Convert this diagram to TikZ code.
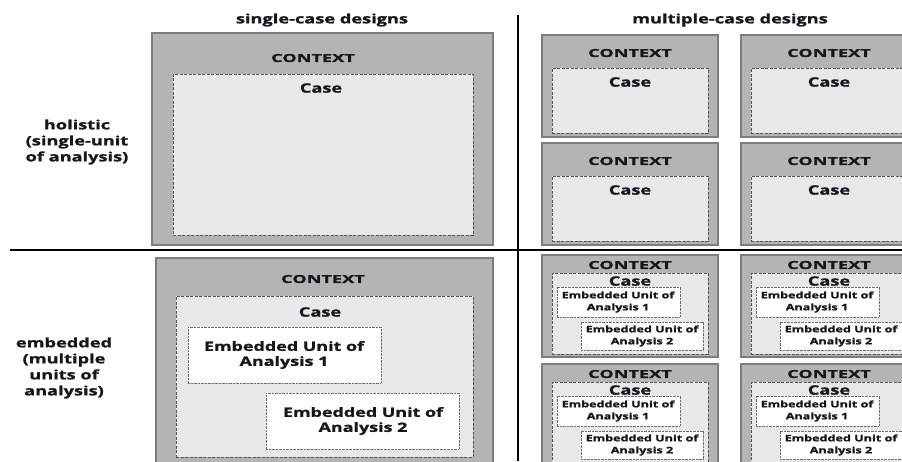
\documentclass[tikz,border=0pt]{standalone}
\usepackage{fontspec}
\newfontfamily\wfont[FakeStretch=1.4,BoldFeatures={FakeBold=1.2}]{Open Sans}
\newfontfamily\cfont[FakeStretch=1.65,BoldFeatures={FakeBold=1.2}]{Open Sans}
\definecolor{ctxfill}{RGB}{180,180,180}
\definecolor{ctxline}{RGB}{125,125,125}
\definecolor{casefill}{RGB}{232,232,232}
\definecolor{caseline}{RGB}{85,85,85}
\definecolor{unitline}{RGB}{110,110,110}
\definecolor{ink}{RGB}{22,22,30}
\newcommand\rbox[6]{\node[#2, anchor=north west, minimum width={(#5)-(#3)}, minimum height={(#6)-(#4)}] (#1) at (#3,#4) {};}
\begin{document}
\begin{tikzpicture}[x=1pt,y=-1pt,
  ctxbox/.style={draw=ctxline, fill=ctxfill, line width=1.3pt, inner sep=0pt, outer sep=0pt},
  casebox/.style={draw=caseline, fill=casefill, line width=1pt, dash pattern=on 3pt off 1.5pt, inner sep=0pt, outer sep=0pt},
  unitbox/.style={draw=unitline, fill=white, line width=0.8pt, dash pattern=on 0.8pt off 0.6pt, inner sep=0pt, outer sep=0pt},
  txt/.style={text=ink, inner sep=0pt, align=center},
  head/.style={txt, font=\wfont\bfseries\fontsize{13}{16}\selectfont},
  side/.style={txt, font=\wfont\bfseries\fontsize{13}{16}\selectfont},
  ctxt/.style={txt, font=\cfont\bfseries\fontsize{11}{13}\selectfont},
  caset/.style={txt, font=\wfont\bfseries\fontsize{13}{15}\selectfont},
  unitbig/.style={txt, font=\wfont\bfseries\fontsize{12.8}{15}\selectfont},
  unitsmall/.style={txt, font=\wfont\bfseries\fontsize{9}{12}\selectfont},
  divider/.style={draw=black, line width=1.4pt}]
\useasboundingbox (0,0) rectangle (902,461);
\clip (0,0) rectangle (902,461);
% dividers
\draw[divider] (10,250) -- (902,250);
\draw[divider] (518,15) -- (518,461);
% headings
\node[head] (hsingle) at (322,20) {single-case designs};
\node[head] (hmulti) at (730,20) {multiple-case designs};
\node[side] (lhol) at (77,142) {holistic\\(single-unit\\of analysis)};
\node[side] (lemb) at (64,368) {embedded\\(multiple\\units of\\analysis)};
% top-left: single holistic
\rbox{ctxA}{ctxbox}{152}{33}{493}{245}
\rbox{caseA}{casebox}{173}{74}{473}{235}
\node[ctxt] (ctxtA) at (313,58) {CONTEXT};
\node[caset] (casetA) at (321,88) {Case};
% top-right: multiple holistic
\foreach \c/\dx in {a/0,b/199}{
  \foreach \r/\dy in {a/0,b/108}{
    \rbox{ctxB\c\r}{ctxbox}{542+\dx}{35+\dy}{718+\dx}{137+\dy}
    \rbox{caseB\c\r}{casebox}{552+\dx}{68+\dy}{708+\dx}{133+\dy}
    \node[ctxt] (ctxtB\c\r) at (630+\dx,53+\dy) {CONTEXT};
    \node[caset] (casetB\c\r) at (630+\dx,82+\dy) {Case};
  }
}
% bottom-left: single embedded
\rbox{ctxC}{ctxbox}{156}{258}{493}{480}
\rbox{caseC}{casebox}{176}{296}{473}{457}
\node[ctxt] (ctxtC) at (323,279) {CONTEXT};
\node[caset] (casetC) at (320,312) {Case};
\rbox{u1C}{unitbox}{188}{327}{381}{383}
\node[unitbig] (u1tC) at (284,355) {Embedded Unit of\\Analysis 1};
\rbox{u2C}{unitbox}{266}{393}{459}{449}
\node[unitbig] (u2tC) at (363,421) {Embedded Unit of\\Analysis 2};
% bottom-right: multiple embedded
\foreach \c/\dx in {a/0,b/199}{
  \foreach \r/\dy in {a/0,b/109}{
    \rbox{ctxD\c\r}{ctxbox}{542+\dx}{255+\dy}{718+\dx}{357+\dy}
    \rbox{caseD\c\r}{casebox}{552+\dx}{273+\dy}{708+\dx}{354+\dy}
    \node[ctxt] (ctxtD\c\r) at (630+\dx,265+\dy) {CONTEXT};
    \node[caset] (casetD\c\r) at (630+\dx,281+\dy) {Case};
    \rbox{u1D\c\r}{unitbox}{557+\dx}{287+\dy}{680+\dx}{317+\dy}
    \node[unitsmall] (u1tD\c\r) at (618+\dx,302+\dy) {Embedded Unit of\\Analysis 1};
    \rbox{u2D\c\r}{unitbox}{581+\dx}{322+\dy}{703+\dx}{350+\dy}
    \node[unitsmall] (u2tD\c\r) at (642+\dx,336+\dy) {Embedded Unit of\\Analysis 2};
  }
}
\end{tikzpicture}
\end{document}
